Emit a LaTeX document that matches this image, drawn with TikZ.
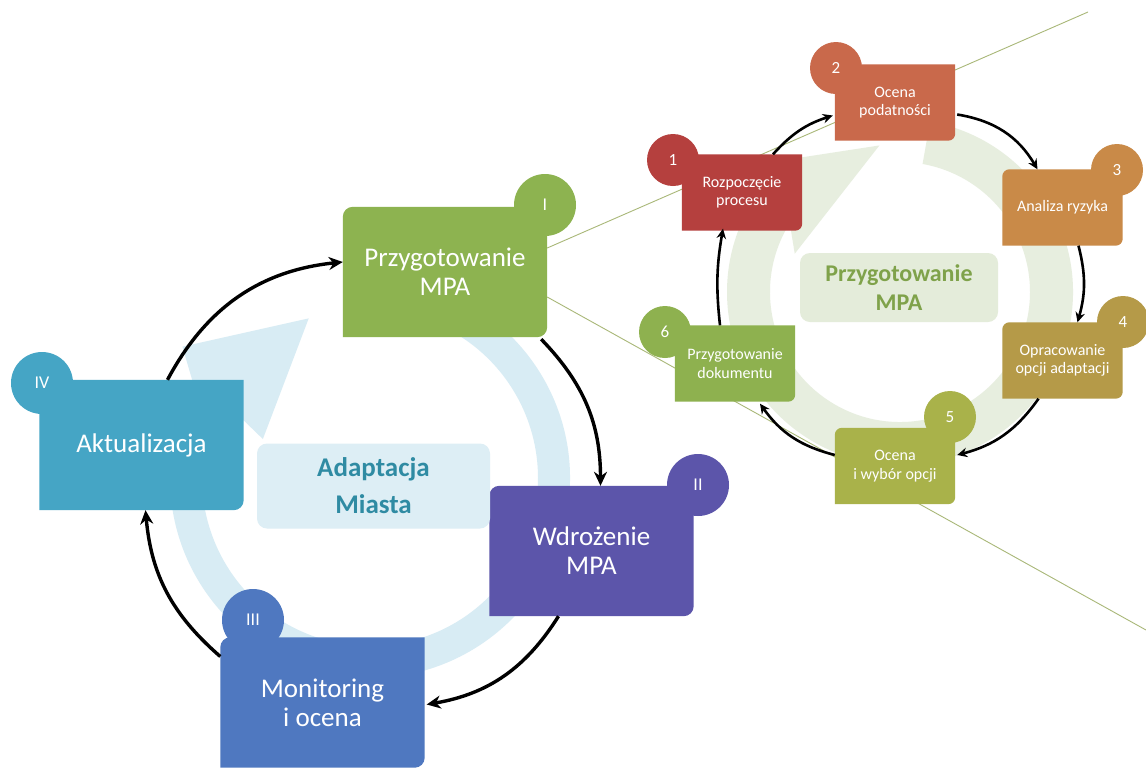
\documentclass[tikz,border=0pt]{standalone}
\usepackage{fontspec}
\setmainfont{Carlito}
\usetikzlibrary{arrows.meta,calc}
\definecolor{cI}{HTML}{8DB350}
\definecolor{cII}{HTML}{5C55AA}
\definecolor{cIII}{HTML}{4F78C0}
\definecolor{cIV}{HTML}{45A5C5}
\definecolor{ringL}{HTML}{D8ECF4}
\definecolor{boxL}{HTML}{DDEEF5}
\definecolor{txtL}{HTML}{2F8BA3}
\definecolor{ringR}{HTML}{E7EEDF}
\definecolor{boxR}{HTML}{E4ECDA}
\definecolor{txtR}{HTML}{7FA24A}
\definecolor{s1}{HTML}{B5403E}
\definecolor{s2}{HTML}{C9694B}
\definecolor{s3}{HTML}{C98A48}
\definecolor{s4}{HTML}{B59A48}
\definecolor{s5}{HTML}{A9B24A}
\definecolor{s6}{HTML}{8EB14F}
\definecolor{zoomline}{HTML}{A9B878}
\pgfdeclarelayer{back}
\pgfdeclarelayer{bg}
\pgfsetlayers{back,bg,main}
% fill of a box with rounded top-left and bottom-right corners
\newcommand\diagfill[3]{%
  \begin{pgfonlayer}{bg}
  \fill[#2] (#1.south west) -- ($(#1.north west)+(0,#3)$)
    arc[start angle=180, end angle=270, radius=#3] -- (#1.north east)
    -- ($(#1.south east)+(0,-#3)$) arc[start angle=0, end angle=90, radius=#3] -- cycle;
  \end{pgfonlayer}}
\tikzset{
  mainbox/.style={minimum width=204pt, minimum height=130pt,
    text=white, align=center, inner sep=0pt, font=\fontsize{27}{29}\selectfont},
  maincirc/.style={circle, fill=#1, minimum size=62pt, inner sep=0pt, text=white,
    font=\fontsize{18}{18}\selectfont},
  smallbox/.style={minimum width=120pt, minimum height=76pt,
    text=white, align=center, inner sep=0pt, font=\fontsize{16}{18.5}\selectfont},
  smallcirc/.style={circle, fill=#1, minimum size=52pt, inner sep=0pt, text=white,
    font=\fontsize{17}{17}\selectfont},
  cyc/.style={line width=3.4pt, -{Stealth[length=14pt,width=13pt]}},
  scyc/.style={line width=2.6pt, -{Stealth[length=10pt,width=9.5pt]}},
  zline/.style={draw=zoomline, line width=0.9pt}
}
\begin{document}
\begin{tikzpicture}[x=1pt,y=-1pt]
\useasboundingbox (0,0) rectangle (1146,769);
\begin{pgfonlayer}{back}
\fill[white] (0,0) rectangle (1146,769);
% ---- background rings ----
\coordinate (cL) at (370,478);
\fill[ringL] ($(cL)+(-80:200)$) arc[start angle=-80, end angle=208, radius=200]
  -- ($(cL)+(215:229)$) -- ($(cL)+(249:171)$) -- ($(cL)+(200:114)$)
  -- ($(cL)+(208:168)$) arc[start angle=208, end angle=-80, radius=168] -- cycle;
\coordinate (cR) at (900,292);
\fill[ringR] ($(cR)+(-80:173)$) arc[start angle=-80, end angle=212, radius=173]
  -- ($(cR)+(219:200)$) -- ($(cR)+(262:148)$) -- ($(cR)+(200:112)$)
  -- ($(cR)+(212:130)$) arc[start angle=212, end angle=-80, radius=130] -- cycle;
\end{pgfonlayer}

% ---- centre labels ----
\node[fill=boxL, rounded corners=10pt, minimum width=233pt, minimum height=85pt,
  text=txtL, align=center, font=\bfseries\fontsize{27}{37}\selectfont]
  (adapt) at (373.5,486) {Adaptacja\\Miasta};
\node[fill=boxR, rounded corners=10pt, minimum width=198pt, minimum height=69pt,
  text=txtR, align=center, font=\bfseries\fontsize{24}{29}\selectfont]
  (prepc) at (899,287.5) {Przygotowanie\\MPA};

% ---- main cycle ----
\node[mainbox] (I) at (445,272) {Przygotowanie\\MPA};
\diagfill{I}{cI}{10}
\node[maincirc=cI] (cIc) at (545,205) {I};
\node[mainbox] (II) at (591.5,551) {Wdrożenie\\MPA};
\diagfill{II}{cII}{10}
\node[maincirc=cII] (cIIc) at (698,485) {II};
\node[mainbox] (III) at (322.5,702.5) {Monitoring\\i ocena};
\diagfill{III}{cIII}{10}
\node[maincirc=cIII] (cIIIc) at (253,620) {III};
\node[mainbox] (IV) at (141.5,445) {Aktualizacja};
\diagfill{IV}{cIV}{10}
\node[maincirc=cIV] (cIVc) at (42,383) {IV};

% ---- zoom lines ----
\coordinate (z1) at (1088,12);
\coordinate (z2) at (1146,630);
\begin{pgfonlayer}{back}
\draw[zline] ($(I.east)+(0,-24)$) -- (z1);
\draw[zline] ($(I.east)+(0,25)$) -- (z2);
\end{pgfonlayer}

\draw[cyc] ($(IV.north)+(26,0)$) to[bend left=28] ($(I.west)+(0,-10)$);
\draw[cyc] ($(I.south east)+(-6,2)$) to[bend left=22] ($(II.north)+(9,0)$);
\draw[cyc] ($(II.south)+(-33,0)$) to[bend left=24] ($(III.east)+(2,2)$);
\draw[cyc] ($(III.west)+(0,-46)$) to[bend left=22] ($(IV.south)+(4,0)$);

% ---- sub cycle ----
\node[smallbox] (n1) at (742,192.5) {Rozpoczęcie\\procesu};
\diagfill{n1}{s1}{7}
\node[smallcirc=s1] (c1) at (673,160) {1};
\node[smallbox] (n2) at (895,102.5) {Ocena\\podatności};
\diagfill{n2}{s2}{7}
\node[smallcirc=s2] (c2) at (836,68) {2};
\node[smallbox] (n3) at (1062.5,207.5) {Analiza ryzyka};
\diagfill{n3}{s3}{7}
\node[smallcirc=s3] (c3) at (1117,170) {3};
\node[smallbox] (n4) at (1062.5,360.5) {Opracowanie\\opcji adaptacji};
\diagfill{n4}{s4}{7}
\node[smallcirc=s4] (c4) at (1123,322) {4};
\node[smallbox] (n5) at (895,466) {Ocena\\i wybór opcji};
\diagfill{n5}{s5}{7}
\node[smallcirc=s5] (c5) at (950,417) {5};
\node[smallbox] (n6) at (735,363.5) {Przygotowanie\\dokumentu};
\diagfill{n6}{s6}{7}
\node[smallcirc=s6] (c6) at (665,332) {6};

\draw[scyc] ($(n1.north)+(31,0)$) to[bend left=15] ($(n2.west)+(-2,13)$);
\draw[scyc] ($(n2.east)+(2,12)$) to[bend left=25] ($(n3.north)+(-25,0)$);
\draw[scyc] ($(n3.south)+(16,0)$) to[bend left=15] ($(n4.north)+(15,0)$);
\draw[scyc] ($(n4.south)+(-24,0)$) to[bend left=20] ($(n5.east)+(2,-11)$);
\draw[scyc] ($(n5.west)+(0,-11)$) to[bend left=20] ($(n6.south)+(25,2)$);
\draw[scyc] ($(n6.north)+(-15,0)$) to[bend left=8] ($(n1.south)+(-19,-2)$);
\end{tikzpicture}
\end{document}
